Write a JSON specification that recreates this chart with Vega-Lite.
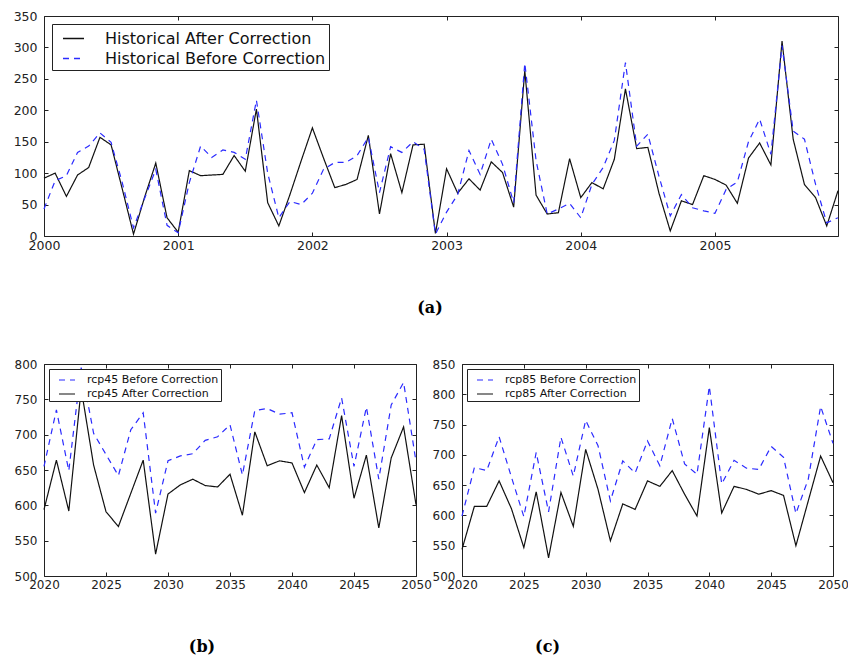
{
  "$schema": "https://vega.github.io/schema/vega-lite/v6.json",
  "padding": {"left": 12, "top": 9, "right": 0, "bottom": 0},
  "background": "white",
  "datasets": {
    "hist": [
      {"t": 2000.000, "after": 92, "before": 43},
      {"t": 2000.083, "after": 100, "before": 88},
      {"t": 2000.167, "after": 63, "before": 96},
      {"t": 2000.250, "after": 97, "before": 133},
      {"t": 2000.333, "after": 109, "before": 143},
      {"t": 2000.417, "after": 157, "before": 164},
      {"t": 2000.500, "after": 145, "before": 149},
      {"t": 2000.583, "after": 75, "before": 85},
      {"t": 2000.667, "after": 3, "before": 13},
      {"t": 2000.750, "after": 62, "before": 60},
      {"t": 2000.833, "after": 116, "before": 106},
      {"t": 2000.917, "after": 29, "before": 17},
      {"t": 2001.000, "after": 6, "before": 5},
      {"t": 2001.083, "after": 104, "before": 85},
      {"t": 2001.167, "after": 96, "before": 143},
      {"t": 2001.250, "after": 97, "before": 125},
      {"t": 2001.333, "after": 98, "before": 137},
      {"t": 2001.417, "after": 128, "before": 133},
      {"t": 2001.500, "after": 103, "before": 122},
      {"t": 2001.583, "after": 202, "before": 216},
      {"t": 2001.667, "after": 53, "before": 100},
      {"t": 2001.750, "after": 16, "before": 29},
      {"t": 2001.833, "after": 66, "before": 55},
      {"t": 2001.917, "after": 120, "before": 50},
      {"t": 2002.000, "after": 172, "before": 68},
      {"t": 2002.083, "after": 124, "before": 106},
      {"t": 2002.167, "after": 77, "before": 117},
      {"t": 2002.250, "after": 82, "before": 117},
      {"t": 2002.333, "after": 90, "before": 128},
      {"t": 2002.417, "after": 160, "before": 157},
      {"t": 2002.500, "after": 35, "before": 69},
      {"t": 2002.583, "after": 131, "before": 142},
      {"t": 2002.667, "after": 69, "before": 133},
      {"t": 2002.750, "after": 145, "before": 150},
      {"t": 2002.833, "after": 146, "before": 138},
      {"t": 2002.917, "after": 4, "before": 3},
      {"t": 2003.000, "after": 107, "before": 38},
      {"t": 2003.083, "after": 68, "before": 66},
      {"t": 2003.167, "after": 91, "before": 136},
      {"t": 2003.250, "after": 73, "before": 98},
      {"t": 2003.333, "after": 118, "before": 154},
      {"t": 2003.417, "after": 101, "before": 114},
      {"t": 2003.500, "after": 46, "before": 53},
      {"t": 2003.583, "after": 263, "before": 275},
      {"t": 2003.667, "after": 65, "before": 120},
      {"t": 2003.750, "after": 35, "before": 35},
      {"t": 2003.833, "after": 37, "before": 43},
      {"t": 2003.917, "after": 123, "before": 52},
      {"t": 2004.000, "after": 61, "before": 29},
      {"t": 2004.083, "after": 85, "before": 82},
      {"t": 2004.167, "after": 75, "before": 109},
      {"t": 2004.250, "after": 122, "before": 152},
      {"t": 2004.333, "after": 234, "before": 276},
      {"t": 2004.417, "after": 139, "before": 143},
      {"t": 2004.500, "after": 141, "before": 162},
      {"t": 2004.583, "after": 68, "before": 95},
      {"t": 2004.667, "after": 8, "before": 32},
      {"t": 2004.750, "after": 56, "before": 66},
      {"t": 2004.833, "after": 50, "before": 45},
      {"t": 2004.917, "after": 96, "before": 40},
      {"t": 2005.000, "after": 90, "before": 36},
      {"t": 2005.083, "after": 81, "before": 74},
      {"t": 2005.167, "after": 52, "before": 86},
      {"t": 2005.250, "after": 124, "before": 150},
      {"t": 2005.333, "after": 148, "before": 186},
      {"t": 2005.417, "after": 113, "before": 130},
      {"t": 2005.500, "after": 310, "before": 303},
      {"t": 2005.583, "after": 154, "before": 167},
      {"t": 2005.667, "after": 82, "before": 154},
      {"t": 2005.750, "after": 61, "before": 82},
      {"t": 2005.833, "after": 16, "before": 21},
      {"t": 2005.917, "after": 72, "before": 29}
    ],
    "rcp45": [
      {"year": 2020, "after": 594, "before": 655},
      {"year": 2021, "after": 664, "before": 735},
      {"year": 2022, "after": 592, "before": 649},
      {"year": 2023, "after": 765, "before": 795},
      {"year": 2024, "after": 657, "before": 702},
      {"year": 2025, "after": 591, "before": 672},
      {"year": 2026, "after": 570, "before": 642},
      {"year": 2027, "after": 617, "before": 707},
      {"year": 2028, "after": 664, "before": 731},
      {"year": 2029, "after": 531, "before": 589},
      {"year": 2030, "after": 616, "before": 663},
      {"year": 2031, "after": 629, "before": 670},
      {"year": 2032, "after": 637, "before": 673},
      {"year": 2033, "after": 628, "before": 692},
      {"year": 2034, "after": 626, "before": 697},
      {"year": 2035, "after": 644, "before": 714},
      {"year": 2036, "after": 586, "before": 643},
      {"year": 2037, "after": 704, "before": 734},
      {"year": 2038, "after": 656, "before": 737},
      {"year": 2039, "after": 663, "before": 729},
      {"year": 2040, "after": 660, "before": 731},
      {"year": 2041, "after": 618, "before": 654},
      {"year": 2042, "after": 657, "before": 693},
      {"year": 2043, "after": 625, "before": 694},
      {"year": 2044, "after": 727, "before": 752},
      {"year": 2045, "after": 610, "before": 655},
      {"year": 2046, "after": 671, "before": 739},
      {"year": 2047, "after": 568, "before": 637},
      {"year": 2048, "after": 667, "before": 742},
      {"year": 2049, "after": 711, "before": 774},
      {"year": 2050, "after": 601, "before": 662}
    ],
    "rcp85": [
      {"year": 2020, "after": 544, "before": 599},
      {"year": 2021, "after": 615, "before": 679},
      {"year": 2022, "after": 615, "before": 674},
      {"year": 2023, "after": 657, "before": 730},
      {"year": 2024, "after": 611, "before": 663},
      {"year": 2025, "after": 547, "before": 598},
      {"year": 2026, "after": 639, "before": 704},
      {"year": 2027, "after": 530, "before": 606},
      {"year": 2028, "after": 638, "before": 729},
      {"year": 2029, "after": 582, "before": 665},
      {"year": 2030, "after": 709, "before": 757},
      {"year": 2031, "after": 643, "before": 715},
      {"year": 2032, "after": 558, "before": 624},
      {"year": 2033, "after": 619, "before": 690},
      {"year": 2034, "after": 610, "before": 670},
      {"year": 2035, "after": 657, "before": 723},
      {"year": 2036, "after": 648, "before": 682},
      {"year": 2037, "after": 674, "before": 760},
      {"year": 2038, "after": 635, "before": 685},
      {"year": 2039, "after": 599, "before": 668},
      {"year": 2040, "after": 745, "before": 813},
      {"year": 2041, "after": 604, "before": 652},
      {"year": 2042, "after": 648, "before": 691},
      {"year": 2043, "after": 643, "before": 678},
      {"year": 2044, "after": 635, "before": 676},
      {"year": 2045, "after": 641, "before": 714},
      {"year": 2046, "after": 633, "before": 696},
      {"year": 2047, "after": 550, "before": 603},
      {"year": 2048, "after": 624, "before": 660},
      {"year": 2049, "after": 698, "before": 780},
      {"year": 2050, "after": 654, "before": 719}
    ]
  },
  "config": {
    "view": {"stroke": "#222222", "strokeWidth": 1},
    "axis": {
      "grid": false,
      "domain": false,
      "title": null,
      "labelFont": "DejaVu Sans",
      "labelColor": "#222222",
      "tickColor": "#222222",
      "tickSize": -4,
      "labelPadding": 11,
      "labelFlush": false,
      "labelOverlap": false
    },
    "legend": {
      "labelLimit": 500
    },
    "title": {
      "font": "DejaVu Serif",
      "fontWeight": "bold",
      "fontSize": 16,
      "color": "#000000",
      "anchor": "middle"
    }
  },
  "vconcat": [
    {
      "width": 794,
      "height": 220,
      "title": {"text": "(a)", "orient": "bottom", "offset": 48, "dx": -11},
      "data": {"name": "hist"},
      "transform": [{"fold": ["after", "before"], "as": ["series", "value"]}],
      "layer": [
        {
          "mark": {"type": "line", "strokeWidth": 1.2},
          "encoding": {
            "x": {
              "field": "t", "type": "quantitative",
              "scale": {"domain": [2000, 2005.917], "nice": false, "zero": false},
              "axis": {"values": [2000, 2001, 2002, 2003, 2004, 2005], "format": "d", "labelFontSize": 12.5, "labelPadding": 7}
            },
            "y": {
              "field": "value", "type": "quantitative",
              "scale": {"domain": [0, 350], "nice": false},
              "axis": {"values": [0, 50, 100, 150, 200, 250, 300, 350], "labelFontSize": 12.5}
            },
            "color": {
              "field": "series", "type": "nominal",
              "scale": {"domain": ["after", "before"], "range": ["#111111", "#2b2bff"]},
              "legend": {
                "title": null, "orient": "top-left", "offset": 8,
                "fillColor": "white", "strokeColor": "#222222", "cornerRadius": 0,
                "padding": 3, "symbolType": "stroke", "symbolSize": 441, "symbolStrokeWidth": 1.3,
                "symbolOffset": 7, "labelOffset": 20, "rowPadding": 0, "labelLimit": 500,
                "labelFont": "DejaVu Sans", "labelFontSize": 16, "labelColor": "#111111",
                "labelExpr": "datum.value == 'after' ? 'Historical After Correction' : 'Historical Before Correction'"
              }
            },
            "strokeDash": {
              "field": "series", "type": "nominal",
              "scale": {"domain": ["after", "before"], "range": [[1, 0], [6, 5]]},
              "legend": {
                "title": null, "orient": "top-left", "offset": 8,
                "fillColor": "white", "strokeColor": "#222222", "cornerRadius": 0,
                "padding": 3, "symbolType": "stroke", "symbolSize": 441, "symbolStrokeWidth": 1.3,
                "symbolOffset": 7, "labelOffset": 20, "rowPadding": 0, "labelLimit": 500,
                "labelFont": "DejaVu Sans", "labelFontSize": 16, "labelColor": "#111111",
                "labelExpr": "datum.value == 'after' ? 'Historical After Correction' : 'Historical Before Correction'"
              }
            }
          }
        },
        {
          "mark": {"type": "line", "opacity": 0},
          "encoding": {
            "detail": {"field": "series"},
            "x": {"field": "t", "type": "quantitative", "axis": {"orient": "top", "labels": false, "values": [2000, 2001, 2002, 2003, 2004, 2005]}},
            "y": {"field": "value", "type": "quantitative", "axis": {"orient": "right", "labels": false, "values": [0, 50, 100, 150, 200, 250, 300, 350]}}
          }
        }
      ],
      "resolve": {"axis": {"x": "independent", "y": "independent"}}
    },
    {
      "hconcat": [
        {
          "width": 372,
          "height": 212,
          "title": {"text": "(b)", "orient": "bottom", "offset": 49, "dx": -28},
          "data": {"name": "rcp45"},
          "transform": [{"fold": ["before", "after"], "as": ["series", "value"]}],
          "layer": [
            {
              "mark": {"type": "line", "strokeWidth": 1.2},
              "encoding": {
                "x": {
                  "field": "year", "type": "quantitative",
                  "scale": {"domain": [2020, 2050], "nice": false, "zero": false},
                  "axis": {"values": [2020, 2025, 2030, 2035, 2040, 2045, 2050], "format": "d", "labelFontSize": 12, "labelPadding": 7}
                },
                "y": {
                  "field": "value", "type": "quantitative",
                  "scale": {"domain": [500, 800], "nice": false, "zero": false},
                  "axis": {"values": [500, 550, 600, 650, 700, 750, 800], "labelFontSize": 12}
                },
                "color": {
                  "field": "series", "type": "nominal",
                  "scale": {"domain": ["before", "after"], "range": ["#2b2bff", "#111111"]},
                  "legend": {
                    "title": null, "orient": "top-left", "offset": 5,
                    "fillColor": "white", "strokeColor": "#222222", "cornerRadius": 0,
                    "padding": 2, "symbolType": "stroke", "symbolSize": 256, "symbolStrokeWidth": 1.2,
                    "symbolOffset": 7, "labelOffset": 11, "rowPadding": 0, "labelLimit": 500,
                    "labelFont": "DejaVu Sans", "labelFontSize": 11, "labelColor": "#111111",
                    "labelExpr": "datum.value == 'after' ? 'rcp45 After Correction' : 'rcp45 Before Correction'"
                  }
                },
                "strokeDash": {
                  "field": "series", "type": "nominal",
                  "scale": {"domain": ["before", "after"], "range": [[6, 5], [1, 0]]},
                  "legend": {
                    "title": null, "orient": "top-left", "offset": 5,
                    "fillColor": "white", "strokeColor": "#222222", "cornerRadius": 0,
                    "padding": 2, "symbolType": "stroke", "symbolSize": 256, "symbolStrokeWidth": 1.2,
                    "symbolOffset": 7, "labelOffset": 11, "rowPadding": 0, "labelLimit": 500,
                    "labelFont": "DejaVu Sans", "labelFontSize": 11, "labelColor": "#111111",
                    "labelExpr": "datum.value == 'after' ? 'rcp45 After Correction' : 'rcp45 Before Correction'"
                  }
                }
              }
            },
            {
              "mark": {"type": "line", "opacity": 0},
              "encoding": {
                "detail": {"field": "series"},
                "x": {"field": "year", "type": "quantitative", "axis": {"orient": "top", "labels": false, "values": [2020, 2025, 2030, 2035, 2040, 2045, 2050]}},
                "y": {"field": "value", "type": "quantitative", "axis": {"orient": "right", "labels": false, "values": [500, 550, 600, 650, 700, 750, 800]}}
              }
            }
          ],
          "resolve": {"axis": {"x": "independent", "y": "independent"}}
        },
        {
          "width": 371,
          "height": 212,
          "title": {"text": "(c)", "orient": "bottom", "offset": 49, "dx": -100},
          "data": {"name": "rcp85"},
          "transform": [{"fold": ["before", "after"], "as": ["series", "value"]}],
          "layer": [
            {
              "mark": {"type": "line", "strokeWidth": 1.2},
              "encoding": {
                "x": {
                  "field": "year", "type": "quantitative",
                  "scale": {"domain": [2020, 2050], "nice": false, "zero": false},
                  "axis": {"values": [2020, 2025, 2030, 2035, 2040, 2045, 2050], "format": "d", "labelFontSize": 12, "labelPadding": 7}
                },
                "y": {
                  "field": "value", "type": "quantitative",
                  "scale": {"domain": [500, 850], "nice": false, "zero": false},
                  "axis": {"values": [500, 550, 600, 650, 700, 750, 800, 850], "labelFontSize": 12}
                },
                "color": {
                  "field": "series", "type": "nominal",
                  "scale": {"domain": ["before", "after"], "range": ["#2b2bff", "#111111"]},
                  "legend": {
                    "title": null, "orient": "top-left", "offset": 5,
                    "fillColor": "white", "strokeColor": "#222222", "cornerRadius": 0,
                    "padding": 2, "symbolType": "stroke", "symbolSize": 256, "symbolStrokeWidth": 1.2,
                    "symbolOffset": 7, "labelOffset": 11, "rowPadding": 0, "labelLimit": 500,
                    "labelFont": "DejaVu Sans", "labelFontSize": 11, "labelColor": "#111111",
                    "labelExpr": "datum.value == 'after' ? 'rcp85 After Correction' : 'rcp85 Before Correction'"
                  }
                },
                "strokeDash": {
                  "field": "series", "type": "nominal",
                  "scale": {"domain": ["before", "after"], "range": [[6, 5], [1, 0]]},
                  "legend": {
                    "title": null, "orient": "top-left", "offset": 5,
                    "fillColor": "white", "strokeColor": "#222222", "cornerRadius": 0,
                    "padding": 2, "symbolType": "stroke", "symbolSize": 256, "symbolStrokeWidth": 1.2,
                    "symbolOffset": 7, "labelOffset": 11, "rowPadding": 0, "labelLimit": 500,
                    "labelFont": "DejaVu Sans", "labelFontSize": 11, "labelColor": "#111111",
                    "labelExpr": "datum.value == 'after' ? 'rcp85 After Correction' : 'rcp85 Before Correction'"
                  }
                }
              }
            },
            {
              "mark": {"type": "line", "opacity": 0},
              "encoding": {
                "detail": {"field": "series"},
                "x": {"field": "year", "type": "quantitative", "axis": {"orient": "top", "labels": false, "values": [2020, 2025, 2030, 2035, 2040, 2045, 2050]}},
                "y": {"field": "value", "type": "quantitative", "axis": {"orient": "right", "labels": false, "values": [500, 550, 600, 650, 700, 750, 800, 850]}}
              }
            }
          ],
          "resolve": {"axis": {"x": "independent", "y": "independent"}}
        }
      ],
      "bounds": "flush",
      "spacing": 46,
      "resolve": {"scale": {"color": "independent", "strokeDash": "independent"}, "legend": {"color": "independent", "strokeDash": "independent"}}
    }
  ],
  "bounds": "flush",
  "spacing": 128,
  "resolve": {"scale": {"color": "independent", "strokeDash": "independent"}, "legend": {"color": "independent", "strokeDash": "independent"}}
}
